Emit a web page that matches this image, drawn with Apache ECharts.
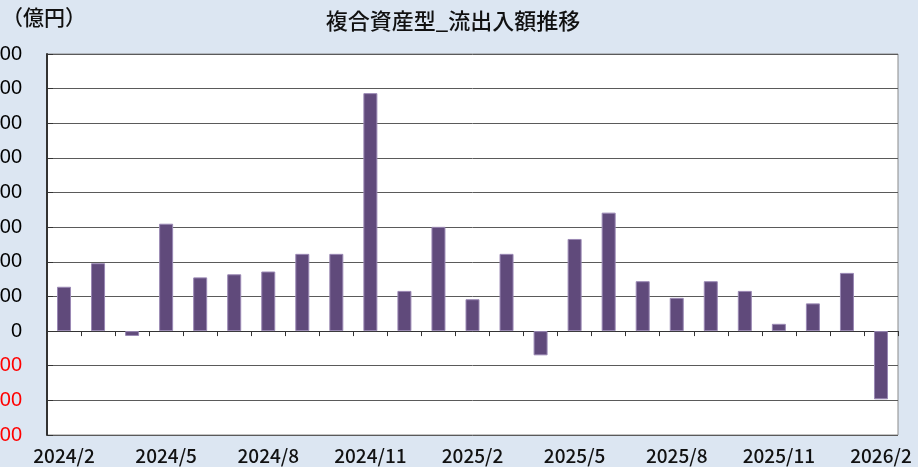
<!DOCTYPE html>
<html>
<head>
<meta charset="utf-8">
<script src="https://cdn.jsdelivr.net/npm/echarts@6/dist/echarts.min.js"></script>
<style>
html,body{margin:0;padding:0;background:#dce6f2;}
#c{width:918px;height:467px;}
</style>
</head>
<body>
<div id="c"></div>
<script>
const chartTitle = '複合資産型_流出入額推移';
const unitLabel = '（億円）';
const categories = ['2024/2','2024/3','2024/4','2024/5','2024/6','2024/7','2024/8','2024/9','2024/10','2024/11','2024/12','2025/1','2025/2','2025/3','2025/4','2025/5','2025/6','2025/7','2025/8','2025/9','2025/10','2025/11','2025/12','2026/1','2026/2'];
const flows = [256, 392, -28, 620, 310, 328, 344, 446, 446, 1374, 232, 602, 184, 446, -140, 532, 684, 288, 192, 288, 232, 42, 160, 336, -394];
const yTicks = {min: -600, max: 1600, step: 200};

const font = '"Noto Sans CJK JP", "Liberation Sans", sans-serif';
const chart = echarts.init(document.getElementById('c'));
chart.setOption({
  backgroundColor: '#dce6f2',
  animation: false,
  title: {
    text: chartTitle,
    left: 448, top: 5, textAlign: 'center',
    textStyle: {fontFamily: font, fontSize: 22, fontWeight: 500, color: '#111'}
  },
  graphic: [{
    type: 'text', left: 2, top: 7,
    style: {text: unitLabel, font: '500 21px ' + font, fill: '#111'}
  }],
  grid: {left: 47, right: 20, top: 54, height: 381, containLabel: false, outerBoundsMode: 'none',
    show: true, borderColor: '#8a8a8a', borderWidth: 1, backgroundColor: '#ffffff'},
  xAxis: [{
    type: 'category', data: categories, position: 'bottom',
    axisLine: {onZero: true, lineStyle: {color: '#333', width: 1}},
    axisTick: {show: true, interval: 0, length: 5, lineStyle: {color: '#333'}},
    axisLabel: {show: false}
  }, {
    type: 'category', data: categories, position: 'bottom',
    axisLine: {show: false}, axisTick: {show: false},
    axisLabel: {interval: 2, margin: 11, fontFamily: font, fontSize: 19, fontWeight: 500, color: '#111', hideOverlap: false}
  }],
  yAxis: {
    type: 'value', min: yTicks.min, max: yTicks.max, interval: yTicks.step,
    axisLine: {show: true, lineStyle: {color: '#333', width: 2}},
    axisTick: {show: true, inside: true, length: 6, lineStyle: {color: '#333'}},
    splitLine: {lineStyle: {color: '#5a5a5a', width: 1}},
    axisLabel: {
      margin: 25, fontFamily: '"Liberation Sans", sans-serif', fontSize: 20,
      formatter: v => v.toLocaleString('en-US'),
      color: v => (Number(v) < 0 ? '#ff0000' : '#000')
    }
  },
  series: [{
    type: 'bar', data: flows, xAxisIndex: 0, barWidth: 14,
    itemStyle: {color: '#604a7b', borderColor: '#9a88b4', borderWidth: 1}
  }]
});
</script>
</body>
</html>
